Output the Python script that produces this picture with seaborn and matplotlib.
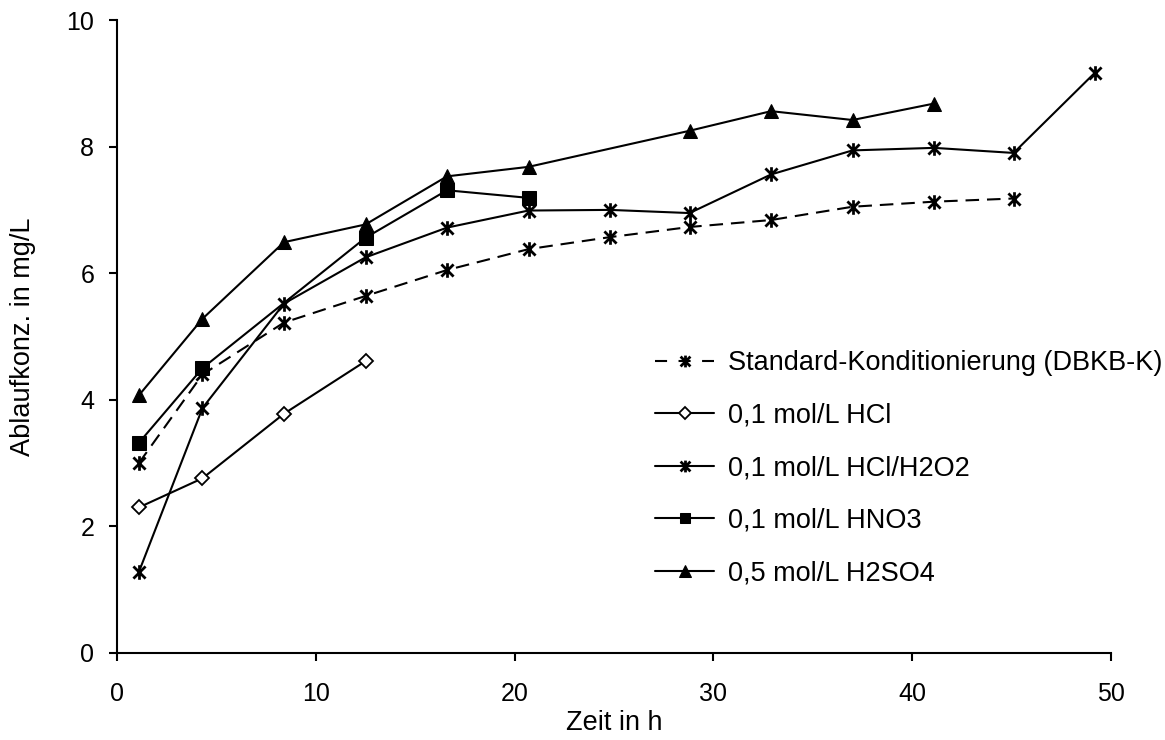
import numpy as np
import pandas as pd
import matplotlib
matplotlib.use("Agg")
import matplotlib.pyplot as plt
from matplotlib.path import Path
import seaborn as sns

# ---- data ----
t_std = [1.1, 4.3, 8.4, 12.5, 16.6, 20.7, 24.8, 28.8, 32.9, 37.0, 41.1, 45.1]
y_std = [3.0, 4.4, 5.22, 5.64, 6.05, 6.38, 6.57, 6.73, 6.84, 7.05, 7.13, 7.18]

t_hcl = [1.1, 4.3, 8.4, 12.5]
y_hcl = [2.3, 2.76, 3.78, 4.61]

t_h2o2 = [1.1, 4.3, 8.4, 12.5, 16.6, 20.7, 24.8, 28.8, 32.9, 37.0, 41.1, 45.1, 49.2]
y_h2o2 = [1.28, 3.87, 5.52, 6.25, 6.72, 6.99, 7.0, 6.95, 7.56, 7.94, 7.98, 7.9, 9.17]

t_hno3 = [1.1, 4.3, 12.5, 16.6, 20.7]
y_hno3 = [3.32, 4.5, 6.56, 7.31, 7.19]

t_h2so4 = [1.1, 4.3, 8.4, 12.5, 16.6, 20.7, 28.8, 32.9, 37.0, 41.1]
y_h2so4 = [4.07, 5.28, 6.49, 6.77, 7.53, 7.68, 8.25, 8.56, 8.42, 8.68]

labels = ["Standard-Konditionierung (DBKB-K)", "0,1 mol/L HCl",
          "0,1 mol/L HCl/H2O2", "0,1 mol/L HNO3", "0,5 mol/L H2SO4"]

x_ticks = [0, 10, 20, 30, 40, 50]
y_ticks = [0, 2, 4, 6, 8, 10]

# ---- style ----
sns.set_style("ticks")
plt.rcParams["font.family"] = ["Liberation Sans", "DejaVu Sans"]
plt.rcParams["text.color"] = "black"
plt.rcParams["axes.labelcolor"] = "black"
plt.rcParams["xtick.color"] = "black"
plt.rcParams["ytick.color"] = "black"

# asterisk marker: X plus vertical bar
ast = Path([(-1, -1), (1, 1), (-1, 1), (1, -1), (0, -1.2), (0, 1.2)],
           [Path.MOVETO, Path.LINETO, Path.MOVETO, Path.LINETO, Path.MOVETO, Path.LINETO])

fig = plt.figure(figsize=(11.65, 7.4), dpi=100)
# axes: x 117..1111 px, y 20..653 px
ax = fig.add_axes([117 / 1165, (740 - 653) / 740, (1111 - 117) / 1165, (653 - 20) / 740])

series = [
    (t_std, y_std, labels[0], dict(marker=ast, markersize=10.5, linestyle=(0, (6.5, 3.8)), mew=2.0)),
    (t_hcl, y_hcl, labels[1], dict(marker="D", markersize=7.5, markerfacecolor="white", mew=1.3)),
    (t_h2o2, y_h2o2, labels[2], dict(marker=ast, markersize=10.5, mew=2.0)),
    (t_hno3, y_hno3, labels[3], dict(marker="s", markersize=9.5, markerfacecolor="black")),
    (t_h2so4, y_h2so4, labels[4], dict(marker="^", markersize=10, markerfacecolor="black")),
]

for t, y, lab, kw in series:
    df = pd.DataFrame({"t": t, "y": y})
    ls = kw.pop("linestyle", "-")
    sns.lineplot(data=df, x="t", y="y", ax=ax, color="black", linewidth=1.5,
                 label=lab, markeredgecolor="black", linestyle=ls, **kw)

ax.set_xlim(0, 50)
ax.set_ylim(0, 10)
ax.set_xticks(x_ticks)
ax.set_yticks(y_ticks)
ax.tick_params(axis="both", labelsize=18, length=5.8, width=1.5, color="black", direction="out")
ax.tick_params(axis="x", pad=15)
ax.tick_params(axis="y", pad=10.5)
for s in ["left", "bottom"]:
    ax.spines[s].set_linewidth(1.5)
    ax.spines[s].set_color("black")
sns.despine(ax=ax)

ax.set_xlabel("Zeit in h", fontsize=19.5, labelpad=3)
ax.set_ylabel("Ablaufkonz. in mg/L", fontsize=19.5, labelpad=22)

leg = ax.legend(loc="center left", bbox_to_anchor=(0.541, 0.292), frameon=False,
                fontsize=19.5, handlelength=2.2, handletextpad=0.5, labelspacing=0.98,
                borderpad=0, borderaxespad=0)
handles = leg.legend_handles
handles[0].set_linestyle((0, (5.8, 5.5)))
legend_ms = [8.5, 6, 8.5, 7.5, 8]
for h, ms in zip(handles, legend_ms):
    h.set_markersize(ms)

fig.savefig("out.png", dpi=100)
